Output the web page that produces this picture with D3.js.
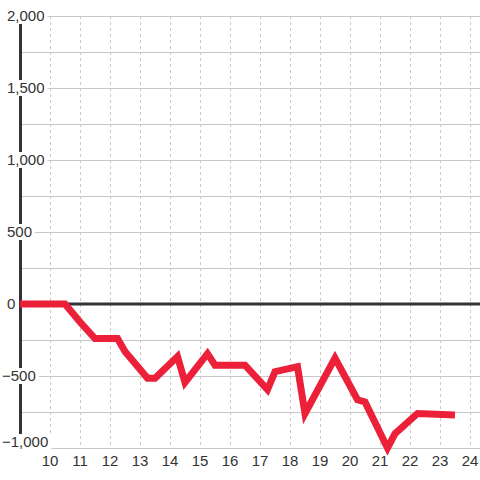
<!DOCTYPE html>
<html>
<head>
<meta charset="utf-8">
<script src="https://cdn.jsdelivr.net/npm/d3@7"></script>
<style>
  html, body { margin: 0; padding: 0; background: #fff; }
  svg { display: block; font-family: "Liberation Sans", Arial, sans-serif; }
</style>
</head>
<body>
<svg id="chart" width="480" height="480"></svg>
<script>
// Data
const xValues = [9, 10.5, 11, 11.5, 12.25, 12.5, 13.25, 13.5, 14.25, 14.5, 15.25, 15.5, 16.5, 17.25, 17.5, 18.25, 18.5, 19.5, 20.25, 20.5, 21.25, 21.5, 22.25, 23.5];
const yValues = [0, 0, -125, -240, -240, -330, -515, -515, -365, -545, -345, -425, -425, -595, -470, -435, -760, -375, -665, -680, -1000, -900, -760, -770];
const xTicks = [10, 11, 12, 13, 14, 15, 16, 17, 18, 19, 20, 21, 22, 23, 24];
const yMajorTicks = [-1000, -500, 0, 500, 1000, 1500, 2000];
const yMinorTicks = [-750, -250, 250, 750, 1250, 1750];

const svg = d3.select("#chart");
const x = d3.scaleLinear().domain([9, 24 + 1/3]).range([20, 480]);
const y = d3.scaleLinear().domain([-1000, 2000]).range([448, 16]);
const fmt = d3.format(",");

// vertical dashed gridlines
svg.append("g").selectAll("line").data(xTicks).join("line")
  .attr("x1", d => x(d) + 0.5).attr("x2", d => x(d) + 0.5)
  .attr("y1", y(2000)).attr("y2", y(-1000))
  .attr("stroke", "#c8c8c8").attr("stroke-width", 1).attr("stroke-dasharray", "3,3");

// horizontal gridlines
svg.append("g").selectAll("line").data(yMajorTicks.concat(yMinorTicks).filter(d => d !== 0)).join("line")
  .attr("x1", 20).attr("x2", 480)
  .attr("y1", d => Math.round(y(d)) + 0.5).attr("y2", d => Math.round(y(d)) + 0.5)
  .attr("stroke", "#c8c8c8").attr("stroke-width", 1);

// y axis line
svg.append("line")
  .attr("x1", 20.5).attr("x2", 20.5).attr("y1", y(2000)).attr("y2", y(-1000))
  .attr("stroke", "#333").attr("stroke-width", 3);

// zero line
svg.append("line")
  .attr("x1", 20).attr("x2", 480).attr("y1", y(0)).attr("y2", y(0))
  .attr("stroke", "#333").attr("stroke-width", 3);

// y labels with white background
const yl = svg.append("g").selectAll("g").data(yMajorTicks).join("g");
yl.each(function(d) {
  const g = d3.select(this);
  const cy = Math.min(y(d), 442);
  const t = g.append("text")
    .attr("x", d < 0 ? 2 : 7)
    .attr("y", cy)
    .attr("dy", "0.35em")
    .attr("font-size", 15)
    .attr("fill", "#333")
    .text(fmt(d));
  const bb = t.node().getBBox();
  g.insert("rect", "text")
    .attr("x", bb.x - 1).attr("y", cy - 8)
    .attr("width", bb.width + 4).attr("height", 16)
    .attr("fill", "#fff");
});

// x labels
svg.append("g").selectAll("text").data(xTicks).join("text")
  .attr("x", d => x(d))
  .attr("y", 466)
  .attr("text-anchor", "middle")
  .attr("font-size", 15)
  .attr("fill", "#333")
  .text(d => d);

// data line
const line = d3.line().x((d, i) => x(xValues[i])).y(d => y(d));
svg.append("path")
  .datum(yValues)
  .attr("d", line)
  .attr("fill", "none")
  .attr("stroke", "#ec2139")
  .attr("stroke-width", 7)
  .attr("stroke-linejoin", "miter")
  .attr("stroke-linecap", "butt");
</script>
</body>
</html>
